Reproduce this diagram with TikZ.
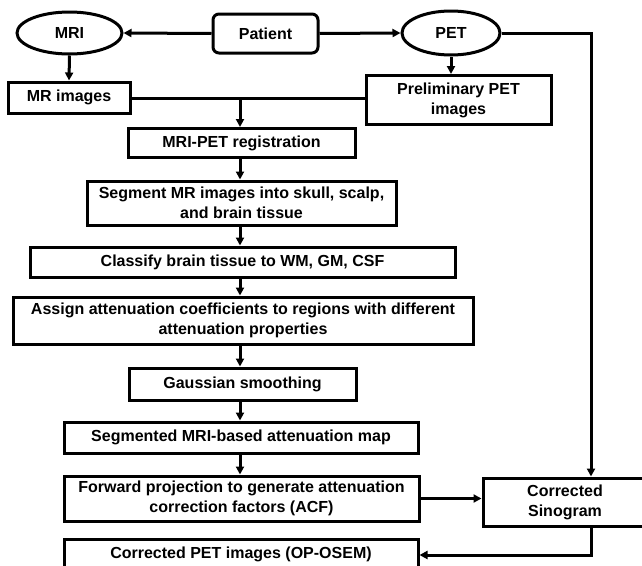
\documentclass[tikz,border=0pt]{standalone}
\usepackage{fontspec}
\setmainfont{Liberation Sans}
\usetikzlibrary{arrows.meta}
\usetikzlibrary{shapes.geometric}

\begin{document}
\begin{tikzpicture}[x=1pt,y=-1pt,
    box/.style={draw,line width=3pt,inner sep=0pt,align=center,font=\bfseries\fontsize{16}{20}\selectfont},
    oval/.style={box,ellipse},
    arr/.style={-{Triangle[length=8pt,width=8pt]},line width=3pt}]
          \useasboundingbox (0,0) rectangle (642,565);
          % top row
          \node [oval,minimum width=105pt,minimum height=42pt] (mri) at (69.5,33) {MRI};
          \node [box,rounded corners=6pt,minimum width=105pt,minimum height=39pt] (patient) at (265.5,33.5) {Patient};
          \node [oval,minimum width=98pt,minimum height=44pt] (pet) at (451,33) {PET};
          \node [box,minimum width=122pt,minimum height=31pt] (mrimg) at (69,97.5) {MR images};
          \node [box,minimum width=185pt,minimum height=49pt] (prelim) at (458.5,100) {Preliminary PET\\images};
          % main column
          \node [box,minimum width=227pt,minimum height=29pt] (reg) at (241.5,143) {MRI-PET registration};
          \node [box,minimum width=309pt,minimum height=44pt] (segment) at (241.5,203) {Segment MR images into skull, scalp,\\and brain tissue};
          \node [box,minimum width=425pt,minimum height=30pt] (classify) at (242.5,262) {Classify brain tissue to WM, GM, CSF};
          \node [box,minimum width=460pt,minimum height=47pt] (assign) at (243,320.5) {Assign attenuation coefficients to regions with different\\attenuation properties};
          \node [box,minimum width=227pt,minimum height=32pt] (gauss) at (242.5,384) {Gaussian smoothing};
          \node [box,minimum width=354pt,minimum height=31pt] (segmap) at (241,437.5) {Segmented MRI-based attenuation map};
          \node [box,minimum width=355pt,minimum height=45pt] (forward) at (241.5,498.5) {Forward projection to generate attenuation\\correction factors (ACF)};
          \node [box,minimum width=164pt,minimum height=48pt] (sino) at (565,502) {Corrected\\Sinogram};
          \node [box,minimum width=354pt,minimum height=30pt] (corrpet) at (241,554) {Corrected PET images (OP-OSEM)};
          \coordinate (join) at (240,98);
          \coordinate (corner) at (591,33);
          \coordinate (bend) at (591,555);
          % connectors
          \draw [arr](patient.west)--(mri.east);
          \draw [arr](patient.east)--(pet.west);
          \draw [arr](mri.south)--(mrimg.north);
          \draw [arr](pet.south)--(pet.south |- prelim.north);
          \draw [line width=3pt](mrimg.east |- join)--(prelim.west |- join);
          \draw [arr](join)--(join |- reg.north);
          \draw [arr](reg.south -| join)--(join |- segment.north);
          \draw [arr](segment.south -| join)--(join |- classify.north);
          \draw [arr](classify.south -| join)--(join |- assign.north);
          \draw [arr](assign.south -| join)--(join |- gauss.north);
          \draw [arr](gauss.south -| join)--(join |- segmap.north);
          \draw [arr](segmap.south -| join)--(join |- forward.north);
          \draw [arr](pet.east)--(corner)--(corner |- sino.north);
          \draw [arr](forward.east)--(sino.west |- forward.east);
          \draw [arr](corner |- sino.south)--(bend)--(corrpet.east |- bend);
          \end{tikzpicture}
\end{document}
